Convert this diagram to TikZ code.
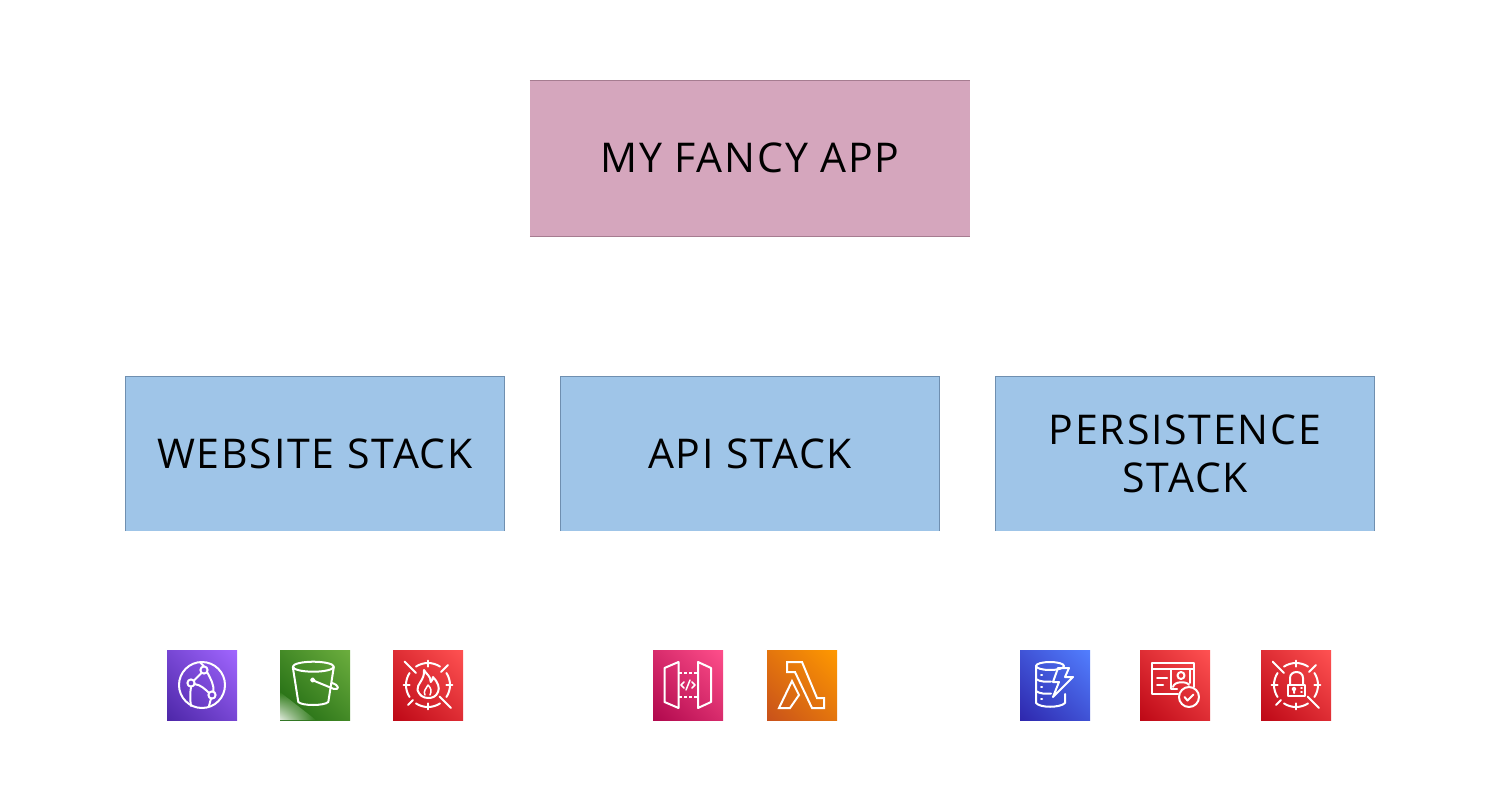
\documentclass[tikz,border=0pt]{standalone}
\usepackage{fontspec}
\usetikzlibrary{shadings}
\setmainfont[LetterSpace=4.4]{Open Sans}
\definecolor{pinkbox}{HTML}{D5A6BD}
\definecolor{bluebox}{HTML}{9FC5E8}
\definecolor{pinkedge}{HTML}{A67C90}
\definecolor{blueedge}{HTML}{6F8FB0}
\definecolor{purpleD}{HTML}{4D27A8}\definecolor{purpleL}{HTML}{A166FF}
\definecolor{greenD}{HTML}{1B660F}\definecolor{greenL}{HTML}{6CAE3E}
\definecolor{redD}{HTML}{BD0816}\definecolor{redL}{HTML}{FF5252}
\definecolor{magD}{HTML}{B0084D}\definecolor{magL}{HTML}{FF4F8B}
\definecolor{orD}{HTML}{C8511B}\definecolor{orL}{HTML}{FF9900}
\definecolor{bluD}{HTML}{2E27AD}\definecolor{bluL}{HTML}{527FFF}
\definecolor{fadeW}{HTML}{E4ECE0}
\definecolor{midG}{HTML}{2E7A18}
\tikzset{
  x=1pt,y=-1pt,
  stackbox/.style={fill=#1,inner sep=0pt,text=black,align=center,
    font=\fontsize{41}{48}\selectfont},
  edgeline/.style={draw=#1,line width=0.7pt},
  iconbg/.style n args={2}{minimum size=70pt,inner sep=0pt,anchor=north west,
    shade,shading=bilinear interpolation,
    lower left=#1,upper left=#1!50!#2,lower right=#1!50!#2,upper right=#2},
  glyph/.style={draw=white,line width=2pt,line join=round,line cap=round},
}
\newcommand{\crosshairmark}{%
  \foreach \c in {0,90,180,270}{
    \draw[glyph] ([shift={(35,35)}]{\c-33}:22) arc[start angle=\c-33,end angle=\c+33,radius=22];
  }
  \draw[glyph] (35,10.7)--(35,16.7) (35,53.3)--(35,59.3) (10.7,35)--(16.7,35) (53.3,35)--(59.3,35);
  \draw[glyph] (11.7,11.7)--(23,23) (55,15)--(48,22) (15,55)--(20,50) (58,58)--(46.7,46.7);
}
\begin{document}
\begin{tikzpicture}
\useasboundingbox (0,0) rectangle (1500,800);
% stacks
\node[stackbox=pinkbox,minimum width=440pt,minimum height=155.5pt] (app) at (750,158.25) {MY FANCY APP};
\draw[edgeline=pinkedge] (app.north west) -- (app.north east);
\draw[edgeline=pinkedge,line width=0.35pt] (app.south west) -- (app.south east);
\foreach \nm/\cx/\txt in {website/315/WEBSITE STACK,apistack/750/API STACK,persist/1185/{PERSISTENCE\\STACK}}{
  \node[stackbox=bluebox,minimum width=379pt,minimum height=154.5pt] (\nm) at (\cx,453.75) {\txt};
  \draw[edgeline=blueedge] (\nm.south west) -- (\nm.north west) -- (\nm.north east) -- (\nm.south east);
}

% CloudFront
\node[iconbg={purpleD}{purpleL}] (cf) at (167,650) {};
\begin{scope}[shift={(167,650)}]
  \draw[glyph] (35,35) circle[radius=23];
  \draw[glyph] (37,20) circle[radius=3.6];
  \draw[glyph] (24,33) circle[radius=3.6];
  \draw[glyph] (45,45) circle[radius=3.6];
  \draw[glyph] (34.5,23) .. controls (31,26) .. (27,30.5);
  \draw[glyph] (27.5,34) .. controls (34,35) and (38,39) .. (42,43);
  \draw[glyph] (24,37) .. controls (23,43) and (23,50) .. (24,56);
  \draw[glyph] (40,22) .. controls (44,29) and (47,35) .. (46.5,41.5);
  \draw[glyph] (37,16.5) -- (33,12);
  \draw[glyph] (44,48.5) -- (42,56);
\end{scope}

% S3
\node[iconbg={greenD}{greenL}] (s3) at (280,650) {};
\begin{scope}[shift={(280,650)}]
  \shade[shading=bilinear interpolation,lower left=fadeW,upper left=midG,lower right=midG,upper right=midG] (0,42) -- (0,70) -- (36,70) -- cycle;
  \draw[glyph] (33.3,16.7) ellipse[x radius=20.5,y radius=5];
  \draw[glyph] (12.8,17) -- (18.3,52) .. controls (22,56) and (44,56) .. (48.3,52) -- (53.8,17);
  \draw[glyph] (32.7,30) circle[radius=1.6];
  \draw[glyph] (34.5,31) -- (54,39) .. controls (60,40) and (59,35) .. (52,33);
\end{scope}

% WAF
\node[iconbg={redD}{redL}] (waf) at (393,650) {};
\begin{scope}[shift={(393,650)}]
  \crosshairmark
  \draw[glyph] (31,20) .. controls (33,24) and (38,26) .. (37.7,32) .. controls (39,31) and (40,29) .. (40,27)
     .. controls (45,32) and (47,38) .. (45,42) .. controls (43,47) and (39,48) .. (35,48)
     .. controls (30,48) and (26,45) .. (24.5,40) .. controls (23.5,34) and (32,30) .. (31,20) -- cycle;
  \draw[glyph,line width=1.5pt] (35,35) .. controls (38,38) and (39,41) .. (37,45) (35,35) .. controls (33,39) and (30,41) .. (32,45);
\end{scope}

% API Gateway
\node[iconbg={magD}{magL}] (apigw) at (653,650) {};
\begin{scope}[shift={(653,650)}]
  \draw[glyph] (25.5,12) -- (11.5,18) -- (11.5,52) -- (25.5,58) -- cycle;
  \draw[glyph] (45,12) -- (58,18) -- (58,52) -- (45,58) -- cycle;
  \draw[glyph,line width=1.6pt,line cap=butt,dash pattern=on 3pt off 2pt] (26,23) -- (45,23) (26,47) -- (45,47);
  \draw[glyph,line width=1.5pt] (31,32) -- (28,35) -- (31,38) (39,32) -- (42,35) -- (39,38) (37,30) -- (33,40);
\end{scope}

% Lambda
\node[iconbg={orD}{orL}] (lambda) at (767,650) {};
\begin{scope}[shift={(767,650)}]
  \draw[glyph,line cap=butt,line join=miter] (20,12) -- (35,12) -- (50,48) -- (57,48) -- (57,58) -- (45,58) -- (28,22) -- (20,22) -- cycle;
  \draw[glyph,line cap=butt,line join=miter] (25,31) -- (32,45) -- (23,58) -- (12,58) -- cycle;
\end{scope}

% DynamoDB
\node[iconbg={bluD}{bluL}] (ddb) at (1020,650) {};
\begin{scope}[shift={(1020,650)}]
  \draw[glyph] (30,16) ellipse[x radius=14,y radius=4];
  \draw[glyph] (16,16) -- (16,53) .. controls (20,58) and (40,58) .. (45,53) -- (45,44);
  \draw[glyph] (16,29) .. controls (20,32) and (27,32) .. (31,31.5);
  \draw[glyph] (16,41) .. controls (20,44) and (26,44) .. (31,43.5);
  \draw[glyph] (21,25) -- (22,25) (21,37) -- (22,37) (21,49) -- (22,49);
  \draw[glyph] (38,18) -- (49,18) -- (45,27) -- (53,27) -- (33,47) -- (39,32) -- (33,32) -- cycle;
\end{scope}

% Certificate
\node[iconbg={redD}{redL}] (cert) at (1140,650) {};
\begin{scope}[shift={(1140,650)}]
  \draw[glyph] (54,37) -- (54,13) -- (12,13) -- (12,44) -- (38,44);
  \draw[glyph] (12,19) -- (54,19);
  \draw[glyph] (31,19) -- (31,38.5) -- (37,38.5);
  \draw[glyph] (50,19) -- (50,33);
  \draw[glyph] (41,25.5) circle[radius=3.5];
  \draw[glyph] (33,37) .. controls (34,31) and (47,31) .. (49,35);
  \draw[glyph] (17,28) -- (27,28) (17,35) -- (23,35);
  \draw[glyph] (49,47) circle[radius=10];
  \draw[glyph] (44.5,47) -- (47.5,50.5) -- (53.5,44.5);
\end{scope}

% Shield with lock
\node[iconbg={redD}{redL}] (lock) at (1261,650) {};
\begin{scope}[shift={(1261,650)}]
  \crosshairmark
  \draw[glyph,line cap=butt] (27,35) rectangle (44,46);
  \draw[glyph] (29,35) -- (29,28) .. controls (29,20) and (42,20) .. (42,28) -- (42,35);
  \draw[glyph] (33,39) circle[radius=1.5] (33,40.5) -- (33,43);
  \draw[glyph,line width=1.5pt] (40,38) -- (41,38) (40,42) -- (41,42);
\end{scope}
\end{tikzpicture}
\end{document}
